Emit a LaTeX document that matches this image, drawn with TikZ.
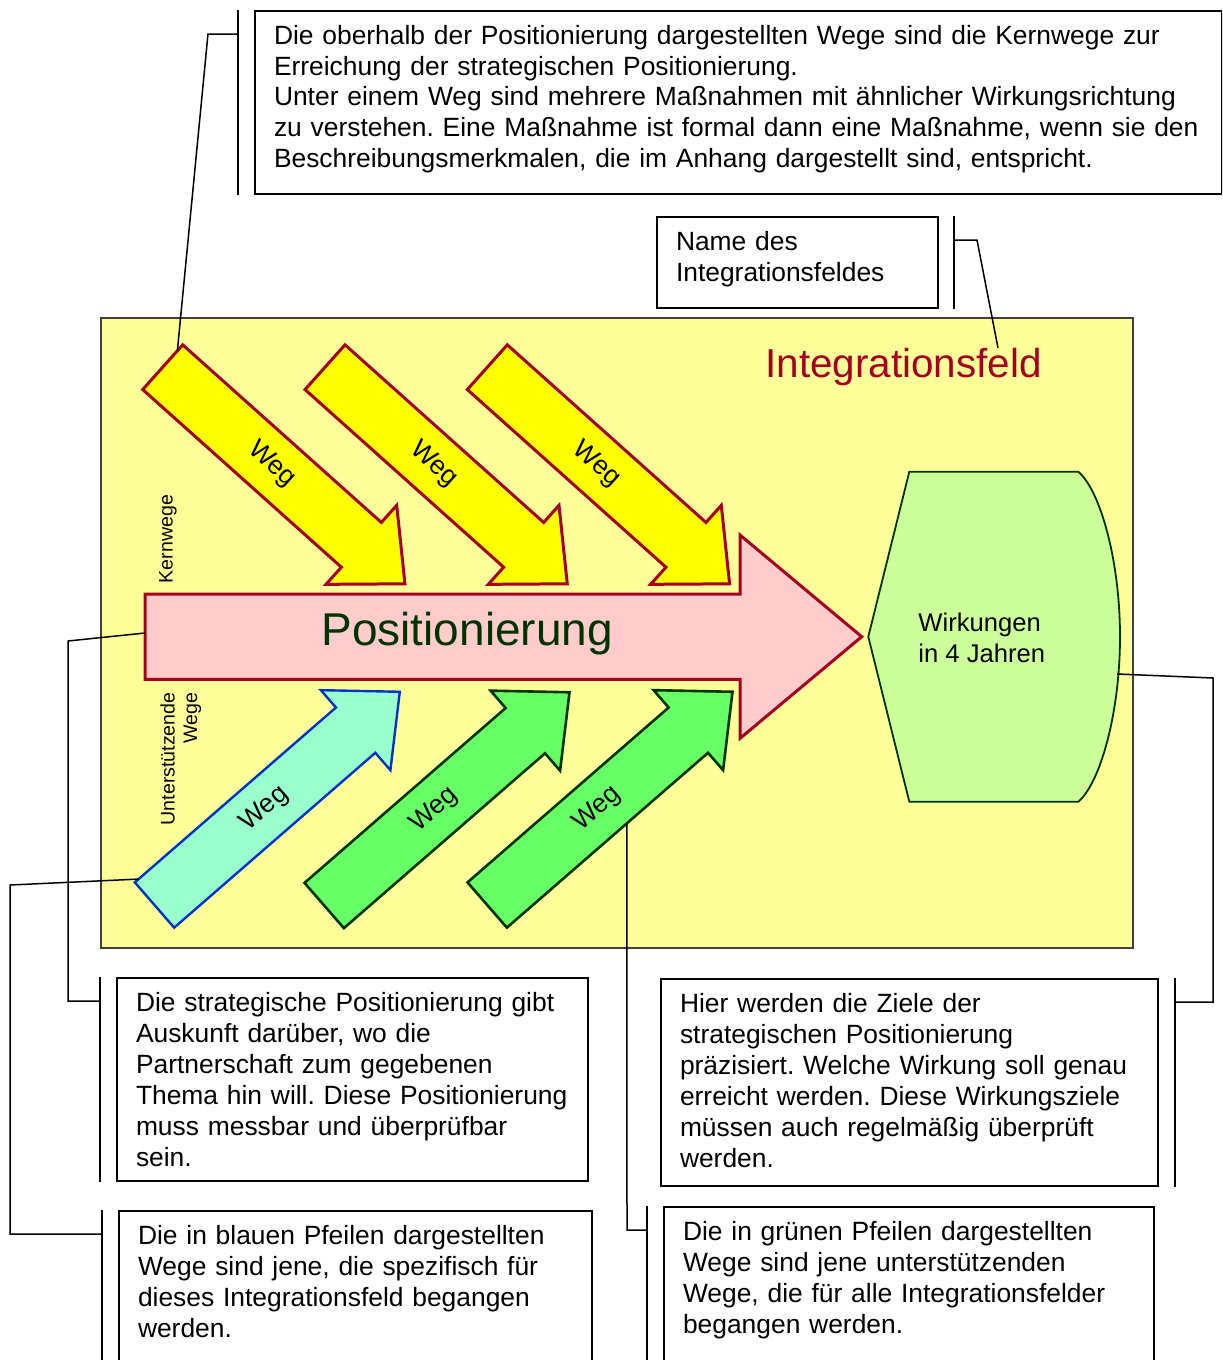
\documentclass[tikz,border=0pt]{standalone}
\usepackage{fontspec}
\setmainfont{Liberation Sans}
\usepackage{xcolor}
\usepackage{tikz}
\usetikzlibrary{calc}
\frenchspacing
\hyphenpenalty=10000

\definecolor{feldgelb}{HTML}{FFFF99}
\definecolor{gelb}{HTML}{FFFF00}
\definecolor{dunkelrot}{HTML}{A50021}
\definecolor{rosa}{HTML}{FFCCCC}
\definecolor{tuerkis}{HTML}{99FFCC}
\definecolor{blaurand}{HTML}{0033CC}
\definecolor{hellgruen}{HTML}{66FF66}
\definecolor{dunkelgruen}{HTML}{003300}
\definecolor{zielgruen}{HTML}{CCFF99}

\begin{document}
\begin{tikzpicture}[
    x=0.5pt, y=-0.5pt,
    field/.style={fill=feldgelb, draw=black!75, line width=0.7pt},
    kernpfeil/.style={fill=gelb, draw=dunkelrot, line width=1.5pt},
    spezpfeil/.style={fill=tuerkis, draw=blaurand, line width=1.2pt},
    stuetzpfeil/.style={fill=hellgruen, draw=dunkelgruen, line width=1.3pt},
    pospfeil/.style={fill=rosa, draw=dunkelrot, line width=1.5pt},
    zielform/.style={fill=zielgruen, draw=dunkelgruen, line width=0.9pt},
    weglabel/.style={font=\fontsize{13.2}{15.5}\selectfont, inner sep=0pt, transform shape},
    seitentext/.style={font=\fontsize{9.8}{11.25}\selectfont, inner sep=0pt},
    callout/.style={draw, line width=1pt, anchor=north west, align=left, inner xsep=9.5pt, inner ysep=6.8pt, text height=9.7pt, font=\fontsize{13.2}{15.5}\selectfont},
    accent/.style={line width=1pt},
    leader/.style={line width=0.75pt},
    wegpfeil/.pic={
        \draw[pic actions] (0,-30) -- (266.5,-30) -- (266.5,-53) -- (325,0) -- (266.5,53) -- (266.5,30) -- (0,30) -- cycle;
        \node[weglabel] (-label) at (146,0) {Weg};
        \coordinate (-hook) at (0,-22);
        \coordinate (-edge) at (5,-30);
        \coordinate (-mid) at (159,30);
    }
]
\useasboundingbox (0,0) rectangle (1222,1360);
\clip (0,0) rectangle (1222,1360);

% Integrationsfeld
\draw[field] (101,318) rectangle (1133,948);
\node[font=\fontsize{20.2}{24}\selectfont, text=dunkelrot, anchor=base west, inner sep=0pt] (feld) at (765,377) {Integrationsfeld};
\coordinate (feldhook) at (998,348);

% Kernwege
\pic[kernpfeil, rotate=-41.8] (k1) at (162.7,367.2) {wegpfeil};
\pic[kernpfeil, rotate=-41.8] (k2) at (325,367.2) {wegpfeil};
\pic[kernpfeil, rotate=-41.8] (k3) at (487.3,367.2) {wegpfeil};

% Positionierung
\draw[pospfeil] (145,594) -- (740,594) -- (740,535) -- (861.7,636.7) -- (740,738.4) -- (740,679.3) -- (145,679.3) -- cycle;
\node[font=\fontsize{23}{27}\selectfont, text=dunkelgruen, anchor=base west, inner sep=0pt] (pos) at (321,645) {Positionierung};
\coordinate (poshook) at (145,633);

% unterstuetzende Wege
\pic[spezpfeil, rotate=41] (b1) at (154.5,905) {wegpfeil};
\pic[stuetzpfeil, rotate=41] (g1) at (324.2,905.5) {wegpfeil};
\pic[stuetzpfeil, rotate=41] (g2) at (487.2,905) {wegpfeil};

\node[seitentext, rotate=90, anchor=base west] (kern) at (172.5,583.5) {Kernwege};
\node[seitentext, rotate=90, anchor=north east, align=right] (stuetz) at (160,692) {Unterstützende\\Wege};

% Wirkungen
\draw[zielform] (868.3,636.7) -- (909.3,471.7) -- (1078.3,471.7) .. controls (1100,490) and (1120,560) .. (1120,636.7) .. controls (1120,713.4) and (1100,783.4) .. (1078.3,801.7) -- (909.3,801.7) -- cycle;
\node[font=\fontsize{12.8}{15.5}\selectfont, anchor=west, align=left, inner sep=0pt] (wirk) at (918,637.5) {Wirkungen\\in 4 Jahren};
\coordinate (wirkhook) at (1117,674);

% Erlaeuterungen
\node[callout, text width=464.5pt, text depth=68.2pt] (kernnote) at (254,10) {Die oberhalb der Positionierung dargestellten Wege sind die Kernwege zur\\Erreichung der strategischen Positionierung.\\Unter einem Weg sind mehrere Maßnahmen mit ähnlicher Wirkungsrichtung\\zu verstehen. Eine Maßnahme ist formal dann eine Maßnahme, wenn sie den\\Beschreibungsmerkmalen, die im Anhang dargestellt sind, entspricht.};
\node[callout, text width=121.5pt, text depth=22.2pt] (namenote) at (656,216) {Name des\\Integrationsfeldes};
\node[callout, text width=216.5pt, text depth=78.2pt] (posnote) at (116,977) {Die strategische Positionierung gibt\\Auskunft darüber, wo die\\Partnerschaft zum gegebenen\\Thema hin will. Diese Positionierung\\muss messbar und überprüfbar\\sein.};
\node[callout, text width=229.5pt, text depth=80.2pt] (wirknote) at (660,978) {Hier werden die Ziele der\\strategischen Positionierung\\präzisiert. Welche Wirkung soll genau\\erreicht werden. Diese Wirkungsziele\\müssen auch regelmäßig überprüft\\werden.};
\node[callout, text width=217.5pt, text depth=100pt] (blaunote) at (118,1210) {Die in blauen Pfeilen dargestellten\\Wege sind jene, die spezifisch für\\dieses Integrationsfeld begangen\\werden.};
\node[callout, text width=226pt, text depth=100pt] (gruennote) at (663,1206) {Die in grünen Pfeilen dargestellten\\Wege sind jene unterstützenden\\Wege, die für alle Integrationsfelder\\begangen werden.};

% Akzentbalken
\draw[accent] ([xshift=-8pt]kernnote.north west) -- ([xshift=-8pt]kernnote.south west);
\draw[accent] ([xshift=7.5pt]namenote.north east) -- ([xshift=7.5pt]namenote.south east);
\draw[accent] ([xshift=-8pt]posnote.north west) -- ([xshift=-8pt]posnote.south west);
\draw[accent] ([xshift=8pt]wirknote.north east) -- ([xshift=8pt]wirknote.south east);
\draw[accent] ([xshift=-8pt]blaunote.north west) -- ([xshift=-8pt]blaunote.south west);
\draw[accent] ([xshift=-8pt]gruennote.north west) -- ([xshift=-8pt]gruennote.south west);

% Hinweislinien
\draw[leader] ([xshift=-8pt,yshift=-12pt]kernnote.north west) -- ++(-15pt,0) -- (k1-hook);
\draw[leader] ([xshift=7.5pt,yshift=-12pt]namenote.north east) -- ++(11.5pt,0) -- (feldhook);
\draw[leader] ([xshift=-8pt,yshift=-12pt]posnote.north west) -- ++(-16pt,0) -- ++(0,180pt) -- (poshook);
\draw[leader] ([xshift=8pt,yshift=-12pt]wirknote.north east) -- ++(19pt,0) -- ++(0,162pt) -- (wirkhook);
\draw[leader] ([xshift=-8pt,yshift=-12pt]blaunote.north west) -- ++(-46pt,0) -- ++(0,174.5pt) -- (b1-edge);
\draw[leader] ([xshift=-8pt,yshift=-12pt]gruennote.north west) -- ++(-10pt,0) -- (g2-mid);

\end{tikzpicture}
\end{document}
